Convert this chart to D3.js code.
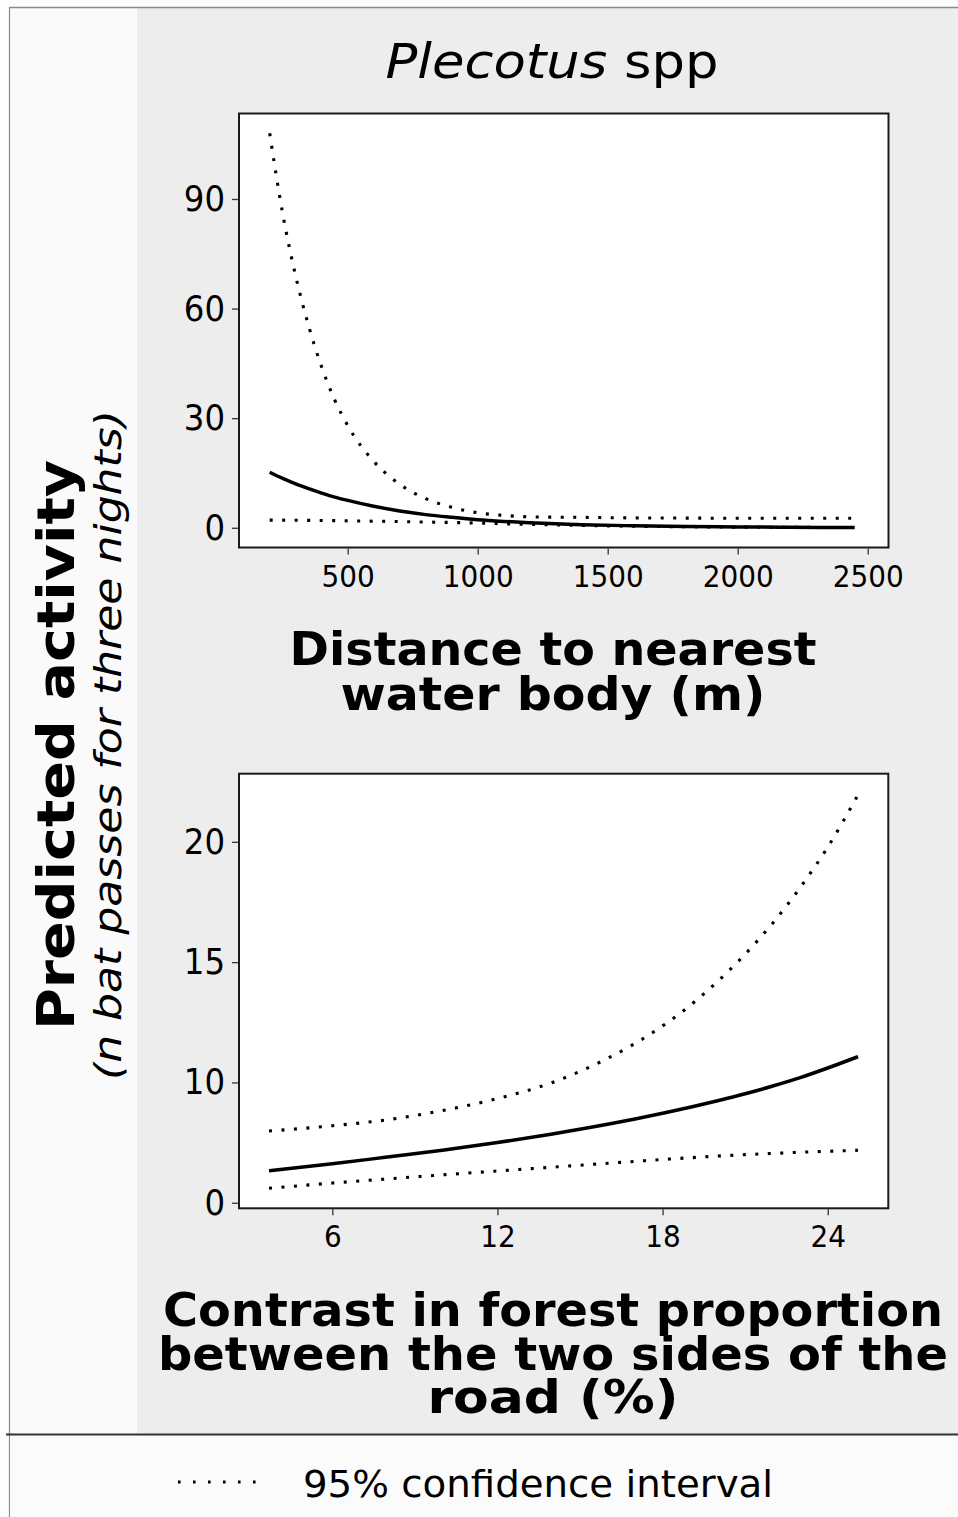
<!DOCTYPE html>
<html>
<head>
<meta charset="utf-8">
<script src="https://cdn.jsdelivr.net/npm/d3@7"></script>
<style>
  html, body { margin: 0; padding: 0; background: #fdfdfd; }
  svg { display: block; }
  text { font-family: "DejaVu Sans Condensed", "DejaVu Sans", sans-serif; fill: #000; }
</style>
</head>
<body>
<svg id="chart" width="958" height="1517"></svg>
<script>
// ---- Distance to nearest water body (m) ----
const waterDist   = [200, 250, 300, 350, 400, 450, 500, 600, 700, 800, 900, 1000, 1100, 1200, 1400, 1600, 1800, 2000, 2200, 2450];
const waterFit    = [15.2, 13.5, 12.0, 10.7, 9.5, 8.4, 7.5, 5.9, 4.6, 3.6, 2.85, 2.2, 1.75, 1.4, 0.85, 0.55, 0.35, 0.22, 0.14, 0.08];
const waterUpper  = [108, 86.0, 68.9, 55.2, 44.0, 35.0, 28.0, 18.2, 11.9, 8.0, 5.6, 4.1, 3.4, 3.0, 2.85, 2.7, 2.65, 2.6, 2.6, 2.6];
const waterLower  = [2.1, 2.08, 2.05, 2.02, 2.0, 1.95, 1.9, 1.8, 1.7, 1.57, 1.45, 1.3, 1.1, 0.95, 0.65, 0.42, 0.28, 0.18, 0.12, 0.07];
const waterXTicks = [500, 1000, 1500, 2000, 2500];
const waterYTicks = [0, 30, 60, 90];
const waterXLimits = [82, 2580];
const waterYLimits = [-5.4, 113.4];

// ---- Contrast in forest proportion (%) ----
const contrastPct   = [3.7, 6, 8, 10, 12, 14, 16, 17, 18, 19, 20, 21, 22, 23, 24, 25.1];
const contrastFit   = [6.33, 6.62, 6.9, 7.18, 7.5, 7.86, 8.26, 8.48, 8.72, 8.97, 9.24, 9.53, 9.85, 10.2, 10.6, 11.07];
const contrastUpper = [7.98, 8.2, 8.45, 8.83, 9.33, 10.0, 11.0, 11.62, 12.35, 13.2, 14.2, 15.33, 16.62, 18.1, 19.78, 21.95];
const contrastLower = [5.6, 5.82, 5.99, 6.16, 6.32, 6.48, 6.64, 6.72, 6.8, 6.87, 6.94, 7.0, 7.05, 7.1, 7.14, 7.18];
const contrastXTicks = [6, 12, 18, 24];
const contrastYTicks = [5, 10, 15, 20];
const contrastYTickLabels = ["0", "10", "15", "20"];
const contrastXLimits = [2.61, 26.2];
const contrastYLimits = [4.77, 22.83];

const svg = d3.select("#chart");

// background regions
svg.append("rect").attr("x", 9).attr("y", 7).attr("width", 128).attr("height", 1427).attr("fill", "#fafafa");
svg.append("rect").attr("x", 137).attr("y", 7).attr("width", 821).attr("height", 1427).attr("fill", "#ededed");
svg.append("line").attr("x1", 9).attr("x2", 958).attr("y1", 7.5).attr("y2", 7.5).attr("stroke", "#8a8a8a").attr("stroke-width", 1.5);
svg.append("line").attr("x1", 9.5).attr("x2", 9.5).attr("y1", 7).attr("y2", 1517).attr("stroke", "#8a8a8a").attr("stroke-width", 1.2);
svg.append("rect").attr("x", 10).attr("y", 1435).attr("width", 948).attr("height", 82).attr("fill", "#fbfbfb");
svg.append("line").attr("x1", 6).attr("x2", 958).attr("y1", 1434.5).attr("y2", 1434.5).attr("stroke", "#333").attr("stroke-width", 2);

// panel title
const title = svg.append("text").attr("x", 552).attr("y", 78).attr("text-anchor", "middle")
  .attr("font-size", 48).attr("textLength", 333).attr("lengthAdjust", "spacingAndGlyphs");
title.append("tspan").attr("font-style", "italic").text("Plecotus");
title.append("tspan").text(" spp");

function drawPanel(opts) {
  const { box, xLimits, yLimits, xs, fit, upper, lower, xTicks, yTicks, yTickLabels } = opts;
  const x = d3.scaleLinear().domain(xLimits).range([box.x0, box.x1]);
  const y = d3.scaleLinear().domain(yLimits).range([box.y1, box.y0]);
  const g = svg.append("g");

  g.append("rect").attr("x", box.x0).attr("y", box.y0)
    .attr("width", box.x1 - box.x0).attr("height", box.y1 - box.y0)
    .attr("fill", "#fff");

  const line = d3.line().x((d, i) => x(xs[i])).y(d => y(d)).curve(d3.curveMonotoneX);

  [upper, lower].forEach(series => {
    g.append("path").datum(series).attr("d", line).attr("fill", "none")
      .attr("stroke", "#000").attr("stroke-width", 3.1).attr("stroke-dasharray", "3 9.5");
  });
  g.append("path").datum(fit).attr("d", line).attr("fill", "none")
    .attr("stroke", "#000").attr("stroke-width", 3.5);

  g.append("rect").attr("x", box.x0).attr("y", box.y0)
    .attr("width", box.x1 - box.x0).attr("height", box.y1 - box.y0)
    .attr("fill", "none").attr("stroke", "#1a1a1a").attr("stroke-width", 2);

  const yAxis = d3.axisLeft(y).tickValues(yTicks).tickSize(6).tickPadding(7)
    .tickFormat((d, i) => yTickLabels ? yTickLabels[i] : d3.format("d")(d));
  const ya = g.append("g").attr("transform", `translate(${box.x0 - 1},0)`).call(yAxis);
  ya.select(".domain").remove();
  ya.selectAll(".tick line").attr("stroke", "#333").attr("stroke-width", 1.3);
  ya.selectAll(".tick text").attr("font-size", 36).attr("font-family", null).attr("fill", "#000");

  const xAxis = d3.axisBottom(x).tickValues(xTicks).tickSize(6).tickPadding(10)
    .tickFormat(d3.format("d"));
  const xa = g.append("g").attr("transform", `translate(0,${box.y1 + 1})`).call(xAxis);
  xa.select(".domain").remove();
  xa.selectAll(".tick line").attr("stroke", "#333").attr("stroke-width", 1.3);
  xa.selectAll(".tick text").attr("font-size", 31).attr("font-family", null).attr("fill", "#000");
}

drawPanel({
  box: { x0: 239, x1: 888.5, y0: 113.5, y1: 547.5 },
  xLimits: waterXLimits, yLimits: waterYLimits,
  xs: waterDist, fit: waterFit, upper: waterUpper, lower: waterLower,
  xTicks: waterXTicks, yTicks: waterYTicks
});

drawPanel({
  box: { x0: 239, x1: 888.3, y0: 773.7, y1: 1208.3 },
  xLimits: contrastXLimits, yLimits: contrastYLimits,
  xs: contrastPct, fit: contrastFit, upper: contrastUpper, lower: contrastLower,
  xTicks: contrastXTicks, yTicks: contrastYTicks, yTickLabels: contrastYTickLabels
});

// axis titles, drawn as tightly stacked bold lines
function multiline(lines) {
  lines.forEach(l => {
    svg.append("text").attr("x", l.x).attr("y", l.y).attr("text-anchor", "middle")
      .attr("font-size", 46).attr("font-weight", "bold")
      .attr("textLength", l.w).attr("lengthAdjust", "spacingAndGlyphs")
      .text(l.t);
  });
}
multiline([
  { t: "Distance to nearest", x: 553, y: 665, w: 527 },
  { t: "water body (m)", x: 553, y: 710, w: 425 },
  { t: "Contrast in forest proportion", x: 553, y: 1326, w: 780 },
  { t: "between the two sides of the", x: 553, y: 1370, w: 790 },
  { t: "road (%)", x: 553, y: 1413, w: 251 }
]);

// shared y-axis title
svg.append("text").attr("transform", "translate(74,745) rotate(-90)")
  .attr("text-anchor", "middle").attr("font-size", 51).attr("font-weight", "bold")
  .attr("textLength", 570).attr("lengthAdjust", "spacingAndGlyphs")
  .text("Predicted activity");
svg.append("text").attr("transform", "translate(121,745) rotate(-90)")
  .attr("text-anchor", "middle").attr("font-size", 38).attr("font-style", "italic")
  .attr("textLength", 670).attr("lengthAdjust", "spacingAndGlyphs")
  .text("(n bat passes for three nights)");

// legend
svg.append("line").attr("x1", 178).attr("x2", 258).attr("y1", 1482).attr("y2", 1482)
  .attr("stroke", "#000").attr("stroke-width", 3.2).attr("stroke-dasharray", "2.6 12.4");
svg.append("text").attr("x", 303).attr("y", 1497).attr("font-size", 38)
  .attr("textLength", 470).attr("lengthAdjust", "spacingAndGlyphs")
  .text("95% confidence interval");
</script>
</body>
</html>
